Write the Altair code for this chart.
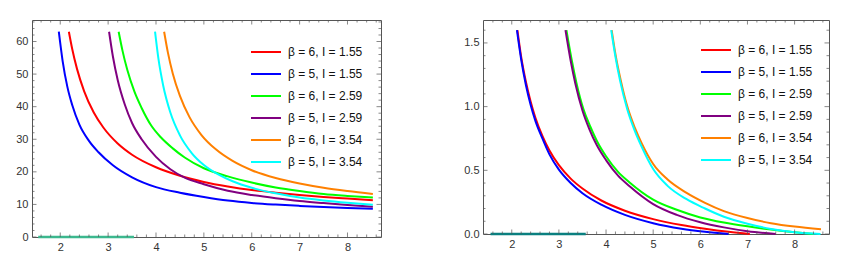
import altair as alt
import pandas as pd
import numpy as np

LABELS = ["β = 6, I = 1.55", "β = 5, I = 1.55", "β = 6, I = 2.59",
          "β = 5, I = 2.59", "β = 6, I = 3.54", "β = 5, I = 3.54"]
COLORS = ["#ff0000", "#0000ff", "#00ff00", "#800080", "#ff8000", "#00ffff"]

# ---------------- left panel ----------------
L_red_x = [2.18, 2.25, 2.35, 2.5, 2.7, 2.9, 3.2, 3.5, 4.0, 4.5, 5.0, 5.5, 6.0, 6.5, 7.0, 7.5, 8.0, 8.53]
L_red_y = [63.0, 57.7, 51.6, 44.7, 38.2, 33.6, 28.7, 25.25, 21.4, 18.8, 16.9, 15.5, 14.4, 13.6, 12.9, 12.3, 11.8, 11.3]
L_blue_x = [1.97, 2.05, 2.15, 2.25, 2.4, 2.6, 2.8, 3.1, 3.5, 4.0, 4.5, 5.0, 5.5, 6.0, 6.5, 7.0, 7.5, 8.0, 8.53]
L_blue_y = [63.0, 54.0, 46.0, 40.5, 34.5, 29.5, 26.0, 22.0, 18.3, 15.3, 13.6, 12.3, 11.2, 10.45, 9.95, 9.55, 9.2, 8.92, 8.7]
L_green_x = [3.22, 3.3, 3.4, 3.55, 3.7, 3.9, 4.1, 4.35, 4.6, 5.0, 5.5, 6.0, 6.5, 7.0, 7.5, 8.0, 8.53]
L_green_y = [63.0, 57.2, 51.3, 44.6, 39.6, 34.2, 30.6, 27.2, 24.4, 21.1, 18.6, 16.7, 15.2, 14.1, 13.2, 12.6, 12.1]
L_purple_x = [3.02, 3.1, 3.2, 3.35, 3.5, 3.7, 4.0, 4.3, 4.6, 5.0, 5.5, 6.0, 6.5, 7.0, 7.5, 8.0, 8.53]
L_purple_y = [63.0, 55.4, 48.2, 40.6, 35.0, 30.0, 24.6, 20.8, 18.2, 16.2, 14.2, 12.9, 11.9, 11.05, 10.4, 9.8, 9.3]
L_orange_x = [4.17, 4.25, 4.35, 4.5, 4.7, 4.95, 5.25, 5.6, 6.0, 6.5, 7.0, 7.5, 8.0, 8.53]
L_orange_y = [63.0, 56.5, 50.2, 43.3, 36.8, 31.3, 26.9, 23.35, 20.5, 18.1, 16.4, 15.1, 14.1, 13.2]
L_cyan_x = [3.98, 4.05, 4.15, 4.3, 4.5, 4.75, 5.0, 5.3, 5.6, 6.0, 6.5, 7.0, 7.5, 8.0, 8.53]
L_cyan_y = [63.0, 54.8, 46.5, 38.2, 31.2, 25.7, 22.1, 19.2, 17.1, 15.1, 13.4, 12.1, 11.2, 10.5, 9.9]
L_seg_x = [1.54, 3.54]
L_seg_y = [0.0, 0.0]

# ---------------- right panel ----------------
R_red_x = [2.12, 2.2, 2.3, 2.4, 2.5, 2.65, 2.8, 3.0, 3.25, 3.5, 3.9, 4.4, 5.0, 5.6, 6.1, 6.6, 7.05]
R_red_y = [1.60, 1.39, 1.195, 1.04, 0.915, 0.77, 0.655, 0.54, 0.435, 0.357, 0.263, 0.183, 0.117, 0.07, 0.041, 0.017, 0.0]
R_blue_x = [2.11, 2.2, 2.3, 2.4, 2.5, 2.65, 2.8, 3.0, 3.25, 3.5, 3.9, 4.4, 5.0, 5.6, 6.1, 6.6]
R_blue_y = [1.60, 1.37, 1.17, 1.015, 0.89, 0.75, 0.625, 0.505, 0.40, 0.32, 0.23, 0.15, 0.085, 0.042, 0.018, 0.0]
R_green_x = [3.16, 3.27, 3.37, 3.52, 3.67, 3.82, 4.0, 4.25, 4.5, 5.0, 5.5, 6.0, 6.5, 7.0, 7.5, 8.0, 8.4]
R_green_y = [1.60, 1.37, 1.19, 0.98, 0.84, 0.72, 0.61, 0.49, 0.405, 0.27, 0.19, 0.13, 0.09, 0.06, 0.035, 0.014, 0.0]
R_purple_x = [3.14, 3.25, 3.35, 3.5, 3.65, 3.8, 4.0, 4.25, 4.5, 5.0, 5.5, 6.0, 6.5, 7.0, 7.6]
R_purple_y = [1.60, 1.36, 1.18, 0.97, 0.82, 0.70, 0.58, 0.46, 0.375, 0.235, 0.15, 0.092, 0.052, 0.022, 0.0]
R_orange_x = [4.12, 4.21, 4.31, 4.46, 4.61, 4.76, 5.0, 5.3, 5.7, 6.1, 6.5, 7.0, 7.5, 8.0, 8.56]
R_orange_y = [1.60, 1.39, 1.21, 0.99, 0.835, 0.71, 0.55, 0.43, 0.325, 0.245, 0.18, 0.125, 0.085, 0.058, 0.037]
R_cyan_x = [4.11, 4.2, 4.3, 4.45, 4.6, 4.75, 5.0, 5.3, 5.7, 6.1, 6.5, 7.0, 7.5, 8.0, 8.55]
R_cyan_y = [1.60, 1.39, 1.20, 0.98, 0.82, 0.69, 0.51, 0.38, 0.275, 0.20, 0.135, 0.08, 0.04, 0.014, 0.0]
R_seg_x = [1.55, 3.57]
R_seg_y = [0.0, 0.0]

FRAME = "#555555"
LABEL_COL = "#333333"
FONT = "Liberation Sans"


def series_df(xs_list, ys_list):
    rows = []
    for order, (lab, xs, ys) in enumerate(zip(LABELS, xs_list, ys_list)):
        for x, y in zip(xs, ys):
            rows.append({"x": x, "y": y, "label": lab, "o": order})
    return pd.DataFrame(rows)


def panel(df, seg_x, seg_y, seg_color, xdom, ydom, yvals, yfmt, ymin_step, ymaj,
          W, H, legx, legy):
    xs = alt.Scale(domain=xdom, nice=False, zero=False)
    ys = alt.Scale(domain=ydom, nice=False, zero=False)
    xaxis = alt.Axis(values=list(range(2, 9)), format="d", ticks=False, domain=False,
                     grid=False, labelFontSize=11, labelFont=FONT, labelColor=LABEL_COL,
                     labelPadding=4, title=None)
    yaxis = alt.Axis(values=yvals, format=yfmt, ticks=False, domain=False, grid=False,
                     labelFontSize=11, labelFont=FONT, labelColor=LABEL_COL,
                     labelPadding=4, title=None)
    layers = []
    for i, lab in enumerate(LABELS):
        sub = df[df["label"] == lab]
        layers.append(
            alt.Chart(sub).mark_line(strokeWidth=2, interpolate="monotone").encode(
                x=alt.X("x:Q", scale=xs, axis=xaxis),
                y=alt.Y("y:Q", scale=ys, axis=yaxis),
                color=alt.Color(
                    "label:N",
                    scale=alt.Scale(domain=LABELS, range=COLORS),
                    legend=alt.Legend(
                        title=None, orient="none", legendX=legx, legendY=legy,
                        symbolType="stroke", symbolSize=900, symbolStrokeWidth=2,
                        labelFontSize=12, labelFont=FONT, labelColor="#111111",
                        labelOffset=6, rowPadding=-9, padding=0,
                    ),
                ),
            )
        )
    seg = pd.DataFrame({"x": seg_x, "y": seg_y})
    layers.append(
        alt.Chart(seg).mark_line(strokeWidth=2.5, color=seg_color).encode(
            x=alt.X("x:Q", scale=xs, axis=xaxis), y=alt.Y("y:Q", scale=ys, axis=yaxis)
        )
    )
    # frame ticks (inward)
    xmaj = list(range(2, 9))
    xmin = [round(v, 1) for v in np.arange(1.6, 8.61, 0.2) if abs(v - round(v)) > 1e-6]
    xt = pd.DataFrame({"v": xmaj + xmin, "len": [9] * len(xmaj) + [5] * len(xmin)})
    ymin_vals = [round(v, 3) for v in np.arange(0, ydom[1], ymin_step)
                 if abs(v / ymaj - round(v / ymaj)) > 1e-6]
    yt = pd.DataFrame({"v": yvals + ymin_vals,
                       "len": [9] * len(yvals) + [5] * len(ymin_vals)})
    tk = dict(clip=True, color=FRAME, thickness=1)
    for yy in (0, H):
        layers.append(alt.Chart(xt).mark_tick(**tk).encode(
            x=alt.X("v:Q", scale=xs, axis=xaxis), y=alt.value(yy),
            size=alt.Size("len:Q", scale=None)))
    for xx in (0, W):
        layers.append(alt.Chart(yt).mark_tick(**tk).encode(
            y=alt.Y("v:Q", scale=ys, axis=yaxis), x=alt.value(xx),
            size=alt.Size("len:Q", scale=None)))
    return alt.layer(*layers).properties(width=W, height=H)


left = panel(series_df([L_red_x, L_blue_x, L_green_x, L_purple_x, L_orange_x, L_cyan_x],
                       [L_red_y, L_blue_y, L_green_y, L_purple_y, L_orange_y, L_cyan_y]),
             L_seg_x, L_seg_y, "#3cb88e", [1.41, 8.7], [0, 66.6],
             [0, 10, 20, 30, 40, 50, 60], "d", 2, 10, 349, 217, 218, 16)

right = panel(series_df([R_red_x, R_blue_x, R_green_x, R_purple_x, R_orange_x, R_cyan_x],
                        [R_red_y, R_blue_y, R_green_y, R_purple_y, R_orange_y, R_cyan_y]),
              R_seg_x, R_seg_y, "#0a8080", [1.39, 8.73], [0, 1.68],
              [0.0, 0.5, 1.0, 1.5], ".1f", 0.1, 0.5, 346, 214, 217, 14)
right = right.properties(title=alt.TitleParams(" ", fontSize=1, offset=2))

chart = alt.hconcat(left, right, spacing=81).resolve_scale(
    color="independent").resolve_legend(color="independent").properties(
    padding={"left": 7, "top": 8, "right": 5, "bottom": 5}
).configure_view(stroke=FRAME, strokeWidth=1)

chart.save("out.html", embed_options={"renderer": "svg", "actions": False})
